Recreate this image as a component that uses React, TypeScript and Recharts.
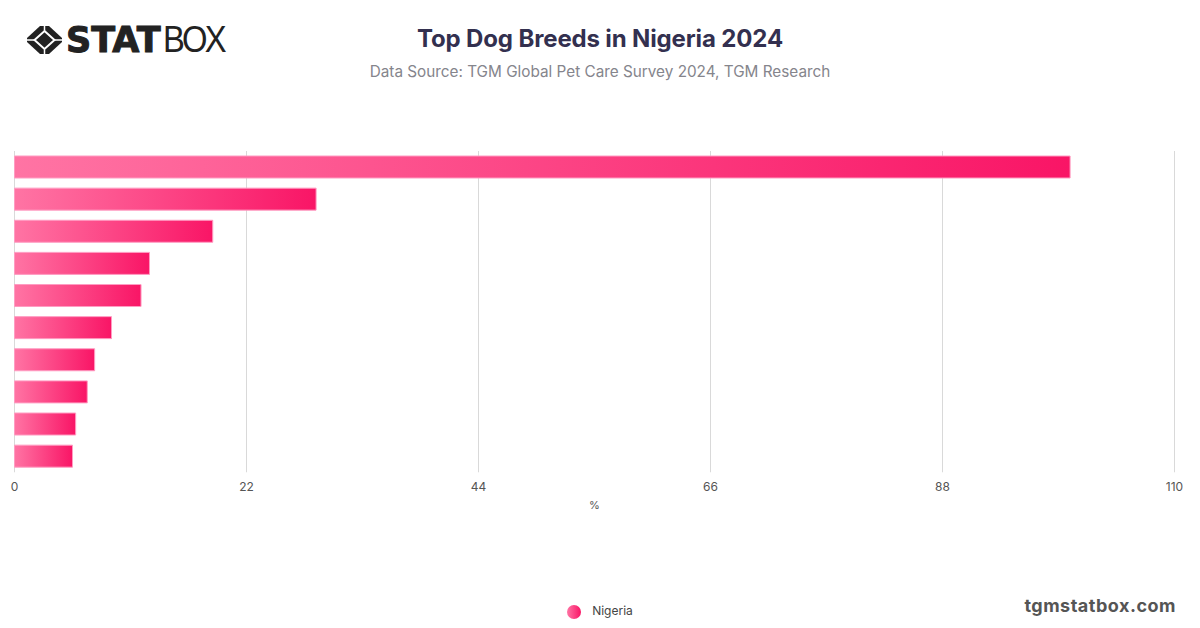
import { Bar, BarChart, CartesianGrid, Legend, XAxis, YAxis } from "recharts";

// breed names are not shown in the reference, so the bars are only ranked
const ranks = ["1", "2", "3", "4", "5", "6", "7", "8", "9", "10"];
const nigeria = [100.1, 28.6, 18.8, 12.8, 12.0, 9.2, 7.6, 6.9, 5.8, 5.5];
const xTicks = [0, 22, 44, 66, 88, 110];

const chartData = ranks.map((rank, i) => ({ rank, Nigeria: nigeria[i] }));

const sans = "Inter, 'Liberation Sans', sans-serif";

function Logo() {
  return (
    <div style={{ position: "absolute", left: 26, top: 20, height: 40, display: "flex", alignItems: "center" }}>
      <svg width="37" height="32" viewBox="0 0 37 32">
        <path d="M14 2 L23 2 L36 14 L36 18 L23 30 L14 30 L1 18 L1 14 Z" fill="#222" />
        <path d="M18.5 7 L28.5 16 L18.5 25 L8.5 16 Z" fill="none" stroke="#fff" strokeWidth="2" />
        <path d="M1 16 L8 16 M36 16 L29 16 M18.5 1 L18.5 6.5 M18.5 31 L18.5 25.5" stroke="#fff" strokeWidth="1.5" />
      </svg>
      <span style={{ fontFamily: "'DejaVu Sans', sans-serif", fontWeight: 700, fontSize: 35, color: "#222", marginLeft: 3, WebkitTextStroke: "1px #222" }}>
        STAT
      </span>
      <span style={{ fontFamily: "'Liberation Sans', sans-serif", fontWeight: 400, fontSize: 36, color: "#222", letterSpacing: -3, marginLeft: 2, transform: "scaleX(0.91)", transformOrigin: "left center" }}>
        BOX
      </span>
    </div>
  );
}

export default function App() {
  return (
    <div style={{ position: "absolute", left: 0, top: 0, width: 1200, height: 628, background: "#fff", overflow: "hidden", fontFamily: sans }}>
      <BarChart
        width={1200}
        height={628}
        data={chartData}
        layout="vertical"
        barCategoryGap={5}
        margin={{ top: 151, right: 25.5, bottom: 100, left: 14.5 }}
      >
        <defs>
          <linearGradient id="pinkFade" x1="0" y1="0" x2="1" y2="0">
            <stop offset="0%" stopColor="#ff74a4" />
            <stop offset="100%" stopColor="#f91566" />
          </linearGradient>
        </defs>
        <CartesianGrid horizontal={false} stroke="#d9d9d9" />
        <XAxis
          type="number"
          domain={[0, 110]}
          ticks={xTicks}
          axisLine={false}
          tickLine={false}
          height={40}
          tickMargin={4}
          tick={{ fontSize: 12, fill: "#555" }}
          label={{ value: "%", position: "insideBottom", offset: 3, fontSize: 11, fill: "#555" }}
        />
        <YAxis
          type="category"
          dataKey="rank"
          width={0}
          tick={false}
          tickLine={false}
          axisLine={{ stroke: "#444", strokeWidth: 1 }}
        />
        <Bar
          dataKey="Nigeria"
          fill="url(#pinkFade)"
          stroke="#ff9cc2"
          strokeWidth={1}
          isAnimationActive={false}
        />
        <Legend
          iconType="circle"
          iconSize={14}
          align="center"
          verticalAlign="bottom"
          wrapperStyle={{ position: "absolute", left: 5, width: 1200, top: 603, bottom: "auto", fontSize: 12 }}
          formatter={(value) => <span style={{ color: "#444", marginLeft: 7 }}>{value}</span>}
        />
      </BarChart>

      <Logo />
      <div style={{ position: "absolute", left: 0, width: 1200, top: 24, textAlign: "center", fontSize: 24, fontWeight: 700, color: "#33304f", letterSpacing: -0.14 }}>
        Top Dog Breeds in Nigeria 2024
      </div>
      <div style={{ position: "absolute", left: 0, width: 1200, top: 62, textAlign: "center", fontSize: 15.3, color: "#85858c" }}>
        Data Source: TGM Global Pet Care Survey 2024, TGM Research
      </div>
      <div style={{ position: "absolute", right: 24, top: 595, fontSize: 18, fontWeight: 700, color: "#555", letterSpacing: 0.5 }}>
        tgmstatbox.com
      </div>
    </div>
  );
}
